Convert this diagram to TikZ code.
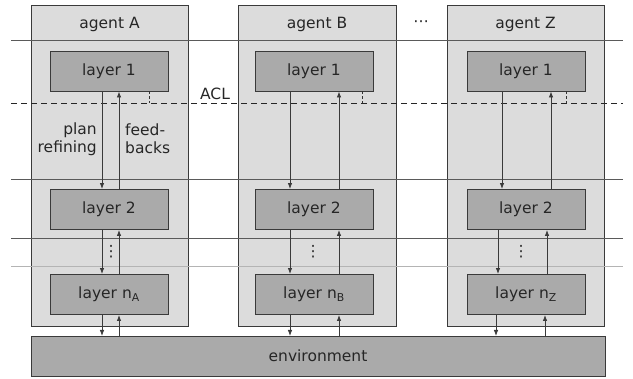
\documentclass[tikz,border=0pt]{standalone}
\usepackage{fontspec}
\setmainfont{DejaVu Sans}
\usetikzlibrary{arrows.meta}
\definecolor{agentfill}{HTML}{DCDCDC}
\definecolor{layerfill}{HTML}{AAAAAA}
\definecolor{edge}{HTML}{3A3A3A}
\definecolor{rule}{HTML}{5A5A5A}
\definecolor{lightrule}{HTML}{B4B4B4}
\tikzset{
  agentbox/.style={draw=edge, fill=agentfill, line width=0.9pt},
  layerbox/.style={draw=edge, fill=layerfill, line width=0.9pt, minimum width=118pt, minimum height=40pt, inner sep=0pt, font=\fontsize{15.5}{18}\selectfont, text=black!85},
  envbox/.style={draw=edge, fill=layerfill, line width=0.9pt, minimum width=574pt, minimum height=40pt, inner sep=0pt, font=\fontsize{15.5}{18}\selectfont, text=black!85},
  lbl/.style={font=\fontsize{15.5}{18}\selectfont, text=black!85, inner sep=0pt},
  arr/.style={draw=edge, line width=0.8pt, -{Latex[length=6pt,width=4.5pt]}},
  hrule/.style={draw=rule, line width=0.7pt},
  acl/.style={draw=black!85, line width=0.9pt, dash pattern=on 6pt off 4pt},
  tick/.style={draw=black!80, line width=0.8pt, dash pattern=on 3pt off 2pt},
}
\begin{document}
\begin{tikzpicture}[x=1pt,y=-1pt]
\useasboundingbox (0,0) rectangle (633,379);
% agent boxes
\path[agentbox] (31,5) rectangle (188,326);
\path[agentbox] (238,5) rectangle (396,326);
\path[agentbox] (447,5) rectangle (604,326);
% horizontal rules
\draw[hrule] (11,40) -- (623,40);
\draw[hrule] (11,179) -- (623,179);
\draw[hrule] (11,238) -- (623,238);
\draw[draw=lightrule, line width=0.9pt] (11,266) -- (623,266);
\draw[acl] (11,103) -- (623,103);
% titles
\node[lbl] (tA) at (109.5,24) {agent A};
\node[lbl] (tB) at (317,24) {agent B};
\node[lbl] (tZ) at (525.5,24) {agent Z};
\node[lbl] (dots) at (421,24) {⋯};
\node[lbl] (aclt) at (215,94) {ACL};
% layers
\node[layerbox] (a1) at (109,71) {layer 1};
\node[layerbox] (a2) at (109,209.5) {layer 2};
\node[layerbox] (an) at (109,294.5) {layer n\textsubscript{A}};
\node[layerbox] (b1) at (314,71) {layer 1};
\node[layerbox] (b2) at (314,209.5) {layer 2};
\node[layerbox] (bn) at (314,294.5) {layer n\textsubscript{B}};
\node[layerbox] (z1) at (526,71) {layer 1};
\node[layerbox] (z2) at (526,209.5) {layer 2};
\node[layerbox] (zn) at (526,294.5) {layer n\textsubscript{Z}};
\node[envbox] (env) at (318,356) {environment};
% environment connection points
\coordinate (eA1) at (102,336);
\coordinate (eA2) at (119,336);
\coordinate (eB1) at (290,336);
\coordinate (eB2) at (339,336);
\coordinate (eZ1) at (496,336);
\coordinate (eZ2) at (545,336);
% vertical dots
\node[lbl] (va) at (111,252) {⋮};
\node[lbl] (vb) at (313,252) {⋮};
\node[lbl] (vz) at (521,252) {⋮};
% ACL ticks
\coordinate (ta) at (149,103);
\coordinate (tb) at (362,103);
\coordinate (tz) at (566,103);
\draw[tick] (a1.south -| ta) -- (ta);
\draw[tick] (b1.south -| tb) -- (tb);
\draw[tick] (z1.south -| tz) -- (tz);
% labels
\node[lbl, align=right, anchor=east] (plan) at (97,139) {plan\\refining};
\node[lbl, align=left, anchor=west] (feed) at (125,139) {feed-\\backs};
% arrows A
\draw[arr] ([xshift=-7]a1.south) -- ([xshift=-7]a2.north);
\draw[arr] ([xshift=10]a2.north) -- ([xshift=10]a1.south);
\draw[arr] ([xshift=-7]a2.south) -- ([xshift=-7]an.north);
\draw[arr] ([xshift=10]an.north) -- ([xshift=10]a2.south);
\draw[arr] ([xshift=-7]an.south) -- (eA1);
\draw[arr] (eA2) -- ([xshift=10]an.south);
% arrows B
\draw[arr] ([xshift=-24]b1.south) -- ([xshift=-24]b2.north);
\draw[arr] ([xshift=25]b2.north) -- ([xshift=25]b1.south);
\draw[arr] ([xshift=-24]b2.south) -- ([xshift=-24]bn.north);
\draw[arr] ([xshift=25]bn.north) -- ([xshift=25]b2.south);
\draw[arr] ([xshift=-24]bn.south) -- (eB1);
\draw[arr] (eB2) -- ([xshift=25]bn.south);
% arrows Z
\draw[arr] ([xshift=-24]z1.south) -- ([xshift=-24]z2.north);
\draw[arr] ([xshift=25]z2.north) -- ([xshift=25]z1.south);
\draw[arr] ([xshift=-28]z2.south) -- ([xshift=-28]zn.north);
\draw[arr] ([xshift=21]zn.north) -- ([xshift=21]z2.south);
\draw[arr] ([xshift=-30]zn.south) -- (eZ1);
\draw[arr] (eZ2) -- ([xshift=19]zn.south);
\end{tikzpicture}
\end{document}
